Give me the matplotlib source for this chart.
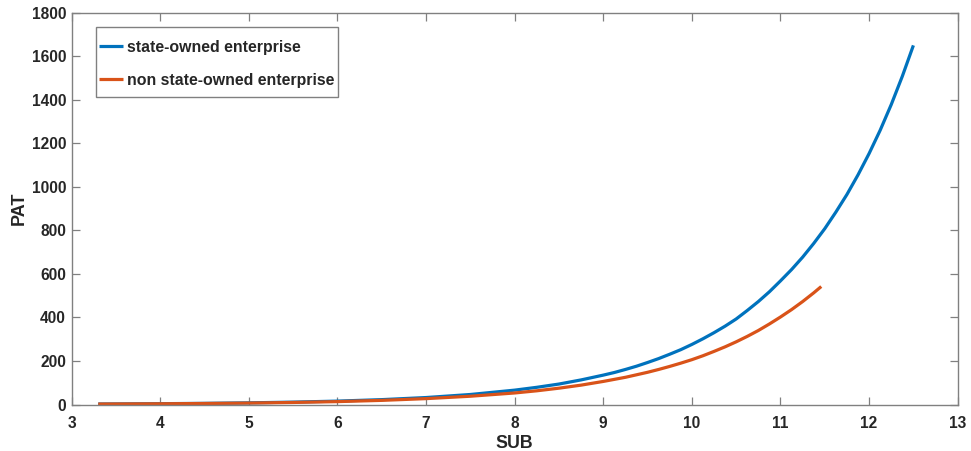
import matplotlib
matplotlib.use("Agg")
import matplotlib.pyplot as plt
from matplotlib.patches import Rectangle

plt.rcParams['font.family'] = ['Liberation Sans', 'DejaVu Sans']

# SUB values and fitted PAT for state-owned enterprises
sub_soe = [3.3, 3.5, 4.0, 4.5, 5.0, 5.5, 6.0, 6.5, 7.0, 7.5, 8.0, 8.25, 8.5, 8.75,
           9.0, 9.125, 9.25, 9.375, 9.5, 9.625, 9.75, 9.875,
           10.0, 10.125, 10.25, 10.375, 10.5, 10.625, 10.75, 10.875,
           11.0, 11.125, 11.25, 11.375, 11.5, 11.625, 11.75, 11.875,
           12.0, 12.125, 12.25, 12.375, 12.5]
pat_soe = [2.3, 2.6, 3.7, 5.3, 7.6, 10.9, 15.6, 22.4, 32, 46, 66, 79, 94, 113,
           135, 147, 161, 176, 193, 211, 231, 252,
           276, 302, 330, 360, 393, 432, 473, 518,
           568, 620, 677, 740, 808, 884, 965, 1055,
           1153, 1260, 1378, 1508, 1650]

# SUB values and fitted PAT for non state-owned enterprises
sub_non = [3.3, 3.5, 4.0, 4.5, 5.0, 5.5, 6.0, 6.5, 7.0, 7.5, 8.0, 8.25, 8.5, 8.75,
           9.0, 9.25, 9.5, 9.625, 9.75, 9.875,
           10.0, 10.125, 10.25, 10.375, 10.5, 10.625, 10.75, 10.875,
           11.0, 11.125, 11.25, 11.375, 11.46]
pat_non = [2.1, 2.4, 3.3, 4.7, 6.6, 9.4, 13.3, 19, 27, 38, 53, 63, 75, 89,
           106, 125, 148, 161, 175, 190,
           206, 224, 244, 265, 288, 313, 340, 370,
           402, 436, 473, 513, 542]

series_labels = ['state-owned enterprise', 'non state-owned enterprise']
x_ticks = list(range(3, 14))
y_ticks = list(range(0, 1801, 200))

blue = '#0072BD'
orange = '#D95319'
text_c = '#262626'
axis_c = '#808080'

fig = plt.figure(figsize=(9.71, 4.51), dpi=100)
ax = fig.add_axes([0.0738, 0.1031, 0.9125, 0.8687])

ax.plot(sub_soe, pat_soe, color=blue, lw=2.3, label=series_labels[0],
        solid_capstyle='butt', solid_joinstyle='round')
ax.plot(sub_non, pat_non, color=orange, lw=2.3, label=series_labels[1],
        solid_capstyle='butt', solid_joinstyle='round')

ax.set_xlim(3, 13)
ax.set_ylim(0, 1800)
ax.set_xticks(x_ticks)
ax.set_yticks(y_ticks)

for s in ax.spines.values():
    s.set_color(axis_c)
    s.set_linewidth(1.0)

ax.tick_params(axis='both', which='major', direction='in', length=5.5, width=0.9,
               color=axis_c, labelcolor=text_c, labelsize=11.2, top=True, right=True)
ax.tick_params(axis='x', pad=8)
ax.tick_params(axis='y', pad=4)
for lab in ax.get_xticklabels() + ax.get_yticklabels():
    lab.set_fontweight('bold')

ax.set_xlabel('SUB', fontsize=12.8, fontweight='bold', color=text_c, labelpad=3)
ax.set_ylabel('PAT', fontsize=13, fontweight='bold', color=text_c, labelpad=2.5)

# legend box drawn as a separate patch so the padding can differ per side
frame = Rectangle((0.0274, 0.7848), 0.2732, 0.1787, transform=ax.transAxes,
                  facecolor='white', edgecolor=axis_c, linewidth=1.0, zorder=4)
ax.add_patch(frame)

leg = ax.legend(loc='upper left', bbox_to_anchor=(0.0308, 0.9316), borderaxespad=0,
                prop={'weight': 'bold', 'size': 11.4}, frameon=False,
                handlelength=1.52, handletextpad=0.25,
                labelspacing=1.15, borderpad=0)
leg.set_zorder(5)
for t in leg.get_texts():
    t.set_color(text_c)

fig.savefig('out.png', dpi=100)
